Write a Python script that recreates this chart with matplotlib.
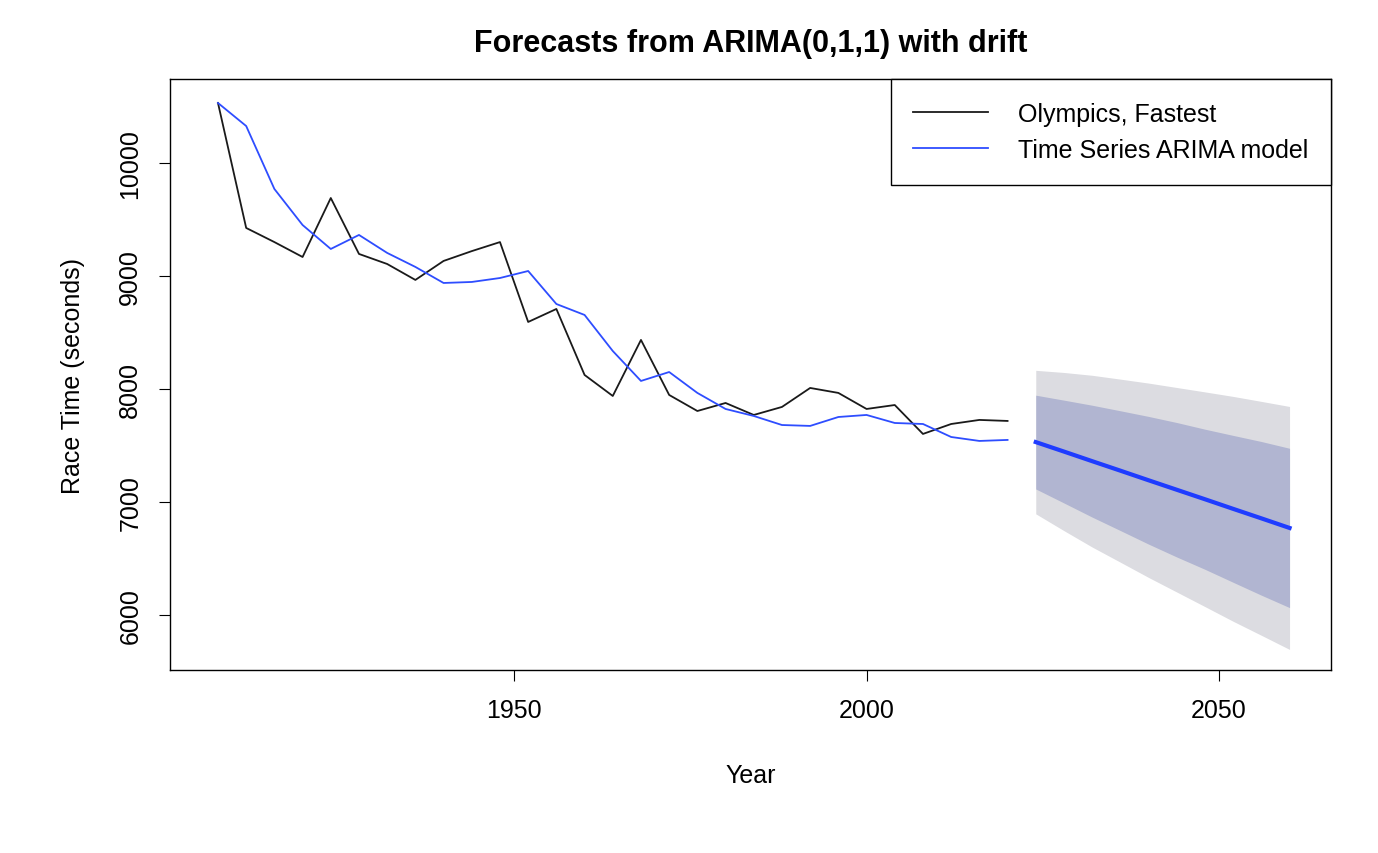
import matplotlib
matplotlib.use("Agg")
import matplotlib.pyplot as plt

plt.rcParams['font.family'] = ['Liberation Sans', 'DejaVu Sans']

years = list(range(1908, 2021, 4))
fastest = [10531, 9425, 9300, 9168, 9690, 9195, 9106, 8965, 9133, 9220, 9300, 8593,
           8708, 8124, 7938, 8434, 7947, 7805, 7876, 7770, 7841, 8009, 7965, 7823,
           7858, 7602, 7690, 7726, 7717]
fitted = [10531, 10327, 9770, 9451, 9239, 9363, 9204, 9080, 8938, 8947, 8982, 9044,
          8752, 8655, 8336, 8071, 8150, 7965, 7823, 7761, 7681, 7673, 7752, 7770,
          7699, 7690, 7575, 7540, 7549]

fc_years = list(range(2024, 2061, 4))
fc_mean = [7530, 7446, 7361, 7277, 7192, 7108, 7024, 6939, 6855, 6770]
hi95 = [8165, 8146, 8121, 8087, 8052, 8013, 7974, 7934, 7890, 7845]
lo95 = [6895, 6746, 6601, 6467, 6332, 6203, 6074, 5944, 5820, 5695]
hi80 = [7945, 7901, 7856, 7807, 7757, 7703, 7644, 7589, 7535, 7475]
lo80 = [7115, 6991, 6866, 6747, 6627, 6513, 6404, 6289, 6175, 6065]

fig = plt.figure(figsize=(13.78, 8.54), dpi=100)
ax = fig.add_axes([0.1234, 0.2143, 0.8426, 0.692])

ax.fill_between(fc_years, lo95, hi95, color='#dcdce1', lw=0)
ax.fill_between(fc_years, lo80, hi80, color='#b1b5d1', lw=0)
ax.plot(fc_years, fc_mean, color='#1f3cff', lw=3)
ax.plot(years, fastest, color='#1a1a1a', lw=1.3, label='Olympics, Fastest')
ax.plot(years, fitted, color='#2e4dff', lw=1.3, label='Time Series ARIMA model')

ax.set_xlim(1901.2, 2065.9)
ax.set_ylim(5513, 10743)
ax.set_xticks([1950, 2000, 2050])
ax.set_yticks([6000, 7000, 8000, 9000, 10000])
ax.tick_params(labelsize=18, length=8, pad=12)
for lab in ax.get_yticklabels():
    lab.set_rotation(90)
    lab.set_va('center')
for s in ax.spines.values():
    s.set_linewidth(1)

ax.set_title('Forecasts from ARIMA(0,1,1) with drift', fontsize=22, fontweight='bold', pad=20)
ax.set_xlabel('Year', fontsize=18, labelpad=30)
ax.set_ylabel('Race Time (seconds)', fontsize=18, labelpad=24)

leg = ax.legend(loc='upper right', fontsize=18, fancybox=False, edgecolor='black',
                borderaxespad=0, framealpha=1, handlelength=3, borderpad=0.9,
                handletextpad=1.2, labelspacing=0.5)
leg.get_frame().set_linewidth(1)

fig.savefig('out.png', dpi=100)
